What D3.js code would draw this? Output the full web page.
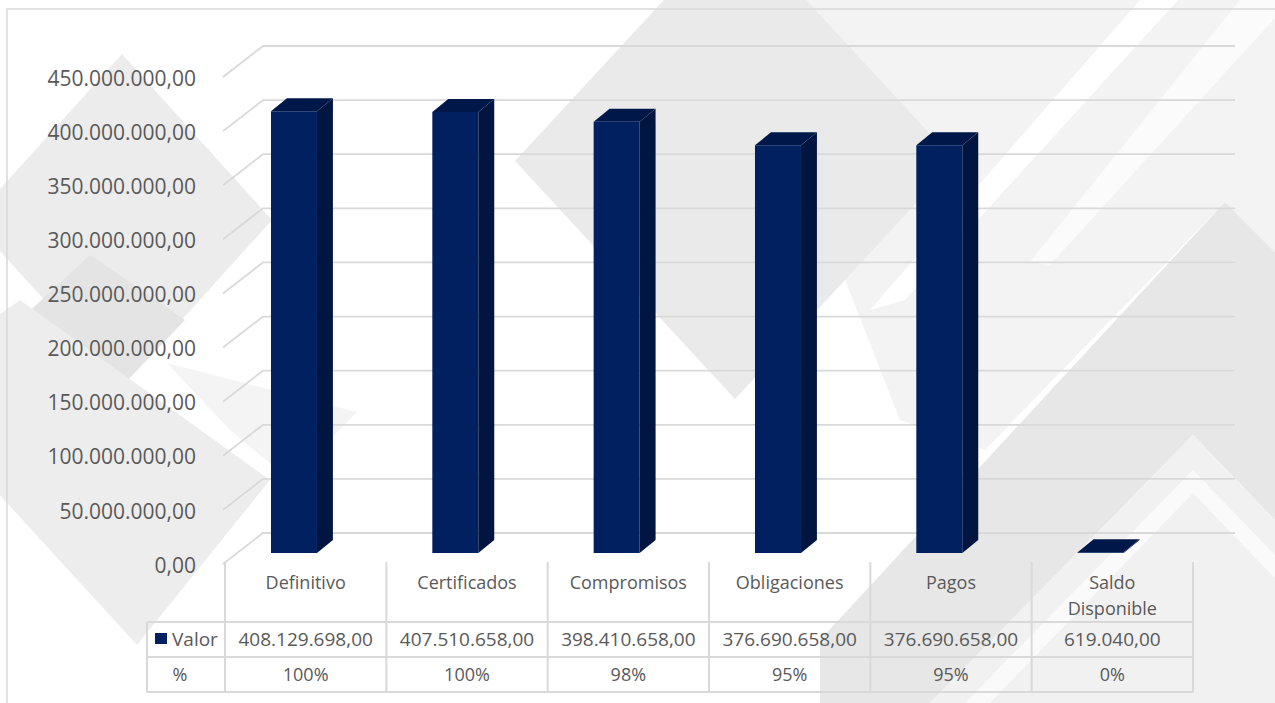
<!DOCTYPE html>
<html>
<head>
<meta charset="utf-8">
<script src="https://cdn.jsdelivr.net/npm/d3@7/dist/d3.min.js"></script>
<style>
  body { margin: 0; background: #fff; }
  svg { display: block; }
  text { font-family: "Open Sans", "Noto Sans", sans-serif; fill: #595959; }
</style>
</head>
<body>
<svg id="chart" width="1275" height="703"></svg>
<script>
// data
const categories = ["Definitivo", "Certificados", "Compromisos", "Obligaciones", "Pagos", "Saldo Disponible"];
const headerLines = [["Definitivo"], ["Certificados"], ["Compromisos"], ["Obligaciones"], ["Pagos"], ["Saldo", "Disponible"]];
const valores = [408129698, 407510658, 398410658, 376690658, 376690658, 619040];
const porcentajes = ["100%", "100%", "98%", "95%", "95%", "0%"];
const yTicks = [0, 50e6, 100e6, 150e6, 200e6, 250e6, 300e6, 350e6, 400e6, 450e6];
const seriesName = "Valor";
const rowLabelPct = "%";

// background watermark shapes (decoration only)
const bgShapes = [
  { fill: "#ececec", pts: [[122, 54], [272, 220], [122, 386], [-28, 220]] },
  { fill: "#e4e4e4", pts: [[90, 255], [185, 320], [122, 386], [20, 320]] },
  { fill: "#ededed", pts: [[20, 300], [270, 480], [137, 645], [-100, 386]] },
  { fill: "#f4f4f4", pts: [[167, 363], [357, 412], [290, 480], [230, 430]] },
  // top right light base
  { fill: "#f3f3f3", pts: [[735, 0], [1275, 0], [1275, 252], [1225, 202], [985, 450], [900, 420]] },
  { fill: "#eaeaea", pts: [[515, 161], [735, -77], [955, 161], [735, 399]] },
  // white stripes
  { fill: "#ffffff", pts: [[1140, 0], [1178, 0], [905, 300], [870, 310]] },
  { fill: "#fbfbfb", pts: [[1240, 0], [1275, 0], [1275, 18], [1050, 265], [1030, 262]] },
  // bottom right darker chevron
  { fill: "#e7e7e7", pts: [[1225, 202], [1275, 252], [1275, 520], [1193, 435], [930, 703], [820, 703], [820, 640]] },
  { fill: "#f1f1f1", pts: [[1193, 435], [1275, 520], [1275, 703], [930, 703]] },
  { fill: "#fafafa", pts: [[1193, 470], [1275, 555], [1275, 578], [1193, 493], [990, 703], [965, 703]] }
];

const svg = d3.select("#chart");
const fmt = d3.formatLocale({ decimal: ",", thousands: ".", grouping: [3], currency: ["", ""] }).format(",.2f");

// 3d-ish geometry
const left = 225, right = 1193;
const floorY = 564;          // front floor line (value 0, depth 0)
const wallDepth = 31;        // depth of back wall in px (vertical)
const kx = 38 / 31;          // horizontal shift per px of depth
const barZ0 = 11, barZ1 = 24;

const x = d3.scaleBand().domain(categories).range([left, right]).padding(0);
const h = d3.scaleLinear().domain([0, 450e6]).range([0, 487]);

function proj(px, v, z) {
  return [px + z * kx, floorY - h(v) - z];
}

// background
svg.append("g").selectAll("polygon")
  .data(bgShapes)
  .enter()
  .append("polygon")
  .attr("points", d => d.pts.map(p => p.join(",")).join(" "))
  .attr("fill", d => d.fill);

// chart border
svg.append("rect")
  .attr("x", 7).attr("y", 9)
  .attr("width", 1300).attr("height", 720)
  .attr("fill", "none")
  .attr("stroke", "#d9d9d9")
  .attr("stroke-width", 1.5);

// gridlines: back wall + side diagonal
const grid = svg.append("g").attr("stroke", "#d9d9d9").attr("stroke-width", 1.8).attr("fill", "none");
grid.selectAll("path")
  .data(yTicks)
  .enter()
  .append("path")
  .attr("d", v => {
    const a = proj(left - 2, v, 0), b = proj(left, v, wallDepth), c = proj(right + 4, v, wallDepth);
    return "M" + a + "L" + b + "L" + c;
  });

// y axis labels
svg.append("g").selectAll("text")
  .data(yTicks)
  .enter()
  .append("text")
  .attr("x", 196)
  .attr("y", v => proj(left, v, 0)[1] + 3)
  .attr("text-anchor", "end")
  .attr("dominant-baseline", "middle")
  .style("font-size", "21px")
  .text(v => fmt(v));

// bars
const barW = 46, barOff = 32.5;
const bars = svg.append("g").selectAll("g")
  .data(categories.map((c, i) => ({ c, v: valores[i] })))
  .enter()
  .append("g");

bars.append("polygon") // side
  .attr("points", d => {
    const x0 = x(d.c) + barOff + barW;
    return [proj(x0, 0, barZ0), proj(x0, 0, barZ1), proj(x0, d.v, barZ1), proj(x0, d.v, barZ0)].join(" ");
  })
  .attr("fill", "#001540");

bars.append("polygon") // top
  .attr("points", d => {
    const x0 = x(d.c) + barOff, x1 = x0 + barW;
    return [proj(x0, d.v, barZ0), proj(x0, d.v, barZ1), proj(x1, d.v, barZ1), proj(x1, d.v, barZ0)].join(" ");
  })
  .attr("fill", "#001849");

bars.append("polygon") // front
  .attr("points", d => {
    const x0 = x(d.c) + barOff, x1 = x0 + barW;
    return [proj(x0, 0, barZ0), proj(x1, 0, barZ0), proj(x1, d.v, barZ0), proj(x0, d.v, barZ0)].join(" ");
  })
  .attr("fill", "#002060");

// data table
const rowTop = 562, rowV = 622, rowP = 657, rowEnd = 692, legLeft = 147;
const tbl = svg.append("g").attr("stroke", "#d9d9d9").attr("stroke-width", 2);
const colEdges = categories.map(c => x(c)).concat([right]);
tbl.selectAll("line.v")
  .data(colEdges)
  .enter()
  .append("line")
  .attr("x1", d => d).attr("x2", d => d)
  .attr("y1", rowTop).attr("y2", rowEnd);
tbl.append("line").attr("x1", legLeft).attr("x2", legLeft).attr("y1", rowV).attr("y2", rowEnd);
[rowV, rowP, rowEnd].forEach(y => {
  tbl.append("line").attr("x1", legLeft).attr("x2", right).attr("y1", y).attr("y2", y);
});

const hdr = svg.append("g").selectAll("text")
  .data(categories.map((c, i) => ({ c, lines: headerLines[i] })))
  .enter()
  .append("text")
  .attr("text-anchor", "middle")
  .style("font-size", "18px");
hdr.selectAll("tspan")
  .data(d => d.lines.map(l => ({ l, c: d.c })))
  .enter()
  .append("tspan")
  .attr("x", d => x(d.c) + x.bandwidth() / 2)
  .attr("y", (d, i) => 589 + i * 26)
  .text(d => d.l);

svg.append("g").selectAll("text")
  .data(categories.map((c, i) => ({ c, v: valores[i] })))
  .enter()
  .append("text")
  .attr("x", d => x(d.c) + x.bandwidth() / 2)
  .attr("y", 646)
  .attr("text-anchor", "middle")
  .style("font-size", "19px")
  .text(d => fmt(d.v));

svg.append("g").selectAll("text")
  .data(categories.map((c, i) => ({ c, p: porcentajes[i] })))
  .enter()
  .append("text")
  .attr("x", d => x(d.c) + x.bandwidth() / 2)
  .attr("y", 681)
  .attr("text-anchor", "middle")
  .style("font-size", "18px")
  .text(d => d.p);

// legend key + row labels
svg.append("rect").attr("x", 155).attr("y", 633).attr("width", 12).attr("height", 11).attr("fill", "#002060");
svg.append("text").attr("x", 172).attr("y", 646).style("font-size", "19px").text(seriesName);
svg.append("text").attr("x", 180).attr("y", 681).attr("text-anchor", "middle").style("font-size", "18px").text(rowLabelPct);
</script>
</body>
</html>
